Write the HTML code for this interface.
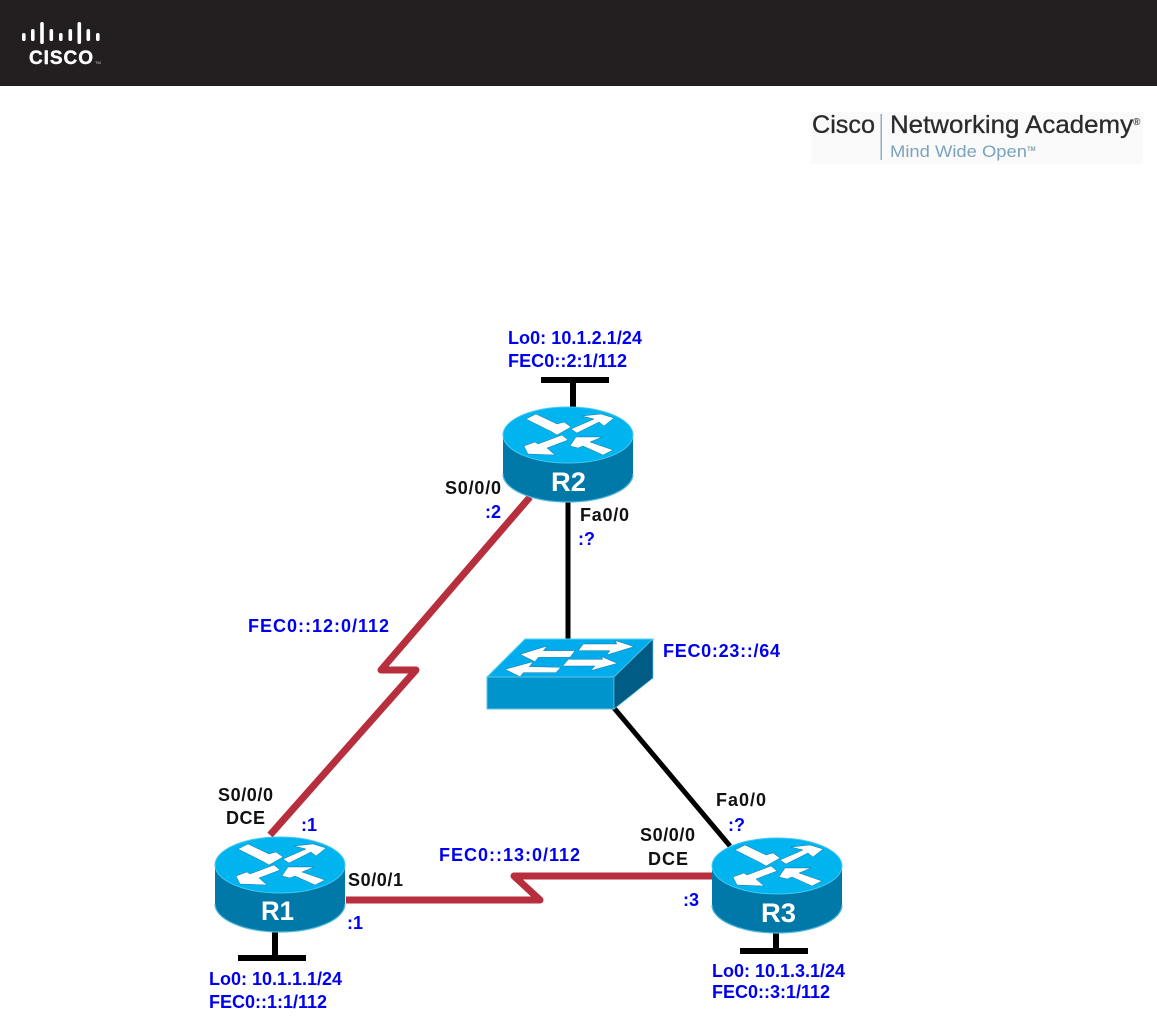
<!DOCTYPE html>
<html lang="en">
<head>
<meta charset="utf-8">
<title>Network topology</title>
<style>
html,body{margin:0;padding:0;background:#fff;}
svg{display:block;}
text{font-family:"Liberation Sans",sans-serif;}
.b{font-weight:bold;font-size:18px;fill:#0000f0;}
.k{font-weight:bold;font-size:18px;fill:#111;}
</style>
</head>
<body>
<svg width="1157" height="1019" viewBox="0 0 1157 1019" xmlns="http://www.w3.org/2000/svg">
<defs>
<g id="router">
  <path d="M-65,0 V39 A65,28 0 0 0 65,39 V0 Z" fill="#0079a8"/>
  <path d="M-65,39 A65,28 0 0 0 65,39" fill="none" stroke="#4fb7dc" stroke-width="1.2"/>
  <ellipse cx="0" cy="0" rx="65" ry="28" fill="#00b4f0" stroke="#45c8f2" stroke-width="1"/>
  <g fill="#fff" stroke="#0a5f88" stroke-width="0.4">
    <polygon points="-42,-16 -32,-21 -11,-11 -4,-13 3,-8 -11,0 -16,-3"/>
    <polygon points="3,-6 26,-16 14,-19 33,-21 46,-17 36,-9 31,-13 9,-2"/>
    <polygon points="-44,11 -40,19 -13,20 -21,13 0,5 -6,0 -30,9 -33,7"/>
    <polygon points="2,11 8,2 34,2 22,7 45,15 35,20 15,11 10,13"/>
  </g>
</g>
</defs>

<rect x="0" y="0" width="1157" height="86" fill="#231f20"/>
<g fill="#fff">
  <rect x="22" y="33" width="3.6" height="8" rx="1.8"/>
  <rect x="31" y="29" width="3.6" height="12" rx="1.8"/>
  <rect x="40.2" y="22" width="3.6" height="22" rx="1.8"/>
  <rect x="49.5" y="29" width="3.6" height="12" rx="1.8"/>
  <rect x="59" y="33" width="3.6" height="8" rx="1.8"/>
  <rect x="68.5" y="29" width="3.6" height="12" rx="1.8"/>
  <rect x="77.5" y="22" width="3.6" height="22" rx="1.8"/>
  <rect x="86.5" y="29" width="3.6" height="12" rx="1.8"/>
  <rect x="96" y="33" width="3.6" height="8" rx="1.8"/>
</g>
<text x="29" y="64" font-size="19" font-weight="bold" fill="#fff" stroke="#fff" stroke-width="0.4" textLength="64">CISCO</text>
<text x="95" y="64" font-size="4" fill="#ccc">TM</text>

<rect x="811" y="112" width="332" height="52" fill="#fafafa"/>
<text x="812" y="133" font-size="25" fill="#2b2b2b" stroke="#2b2b2b" stroke-width="0.3" textLength="63" lengthAdjust="spacingAndGlyphs">Cisco</text>
<rect x="880.5" y="114" width="1.4" height="46" fill="#86a9bf"/>
<text x="890" y="133" font-size="25" fill="#2b2b2b" stroke="#2b2b2b" stroke-width="0.3" textLength="243" lengthAdjust="spacingAndGlyphs">Networking Academy</text>
<text x="1133" y="125" font-size="10" font-weight="bold" fill="#444">®</text>
<text x="890" y="157" font-size="16.5" fill="#7ba3bd" textLength="137" lengthAdjust="spacingAndGlyphs">Mind Wide Open</text>
<text x="1027" y="151" font-size="6" font-weight="bold" fill="#7ba3bd">TM</text>

<g stroke="#b72e3d" stroke-width="7" fill="none" stroke-linejoin="round">
  <polyline points="530,497 381,670 416,670 270,835"/>
  <polyline points="346,900 540,900 514,876 712,876"/>
</g>

<g stroke="#000" fill="none">
  <line x1="541" y1="380" x2="609" y2="380" stroke-width="6"/>
  <line x1="573" y1="380" x2="573" y2="410" stroke-width="6"/>
  <line x1="568" y1="500" x2="568" y2="640" stroke-width="5"/>
  <line x1="614" y1="708" x2="730" y2="846" stroke-width="5"/>
  <line x1="275" y1="930" x2="275" y2="958" stroke-width="6"/>
  <line x1="238" y1="958" x2="306" y2="958" stroke-width="6"/>
  <line x1="776" y1="930" x2="776" y2="951" stroke-width="6"/>
  <line x1="740" y1="951" x2="808" y2="951" stroke-width="6"/>
</g>

<use href="#router" x="568" y="435"/>
<use href="#router" x="280" y="865"/>
<use href="#router" x="777" y="866"/>

<text x="551" y="491" font-size="27" font-weight="bold" fill="#fff" textLength="35" lengthAdjust="spacingAndGlyphs">R2</text>
<text x="261" y="920" font-size="27" font-weight="bold" fill="#fff" textLength="33" lengthAdjust="spacingAndGlyphs">R1</text>
<text x="761" y="922" font-size="27" font-weight="bold" fill="#fff" textLength="35" lengthAdjust="spacingAndGlyphs">R3</text>

<polygon points="487,677 525,639 653,639 614,677" fill="#00acec" stroke="#5fd0f2" stroke-width="1"/>
<polygon points="487,677 614,677 614,709 487,709" fill="#0094cc" stroke="#5fc4e6" stroke-width="1"/>
<polygon points="614,677 653,639 653,678 614,709" fill="#005c84" stroke="#5fc4e6" stroke-width="0.7"/>
<g transform="translate(470,620) scale(0.3333)" fill="#fff" stroke="#0a5f88" stroke-width="1.2">
  <polygon points="150,103 232,78 220,92 315,92 300,112 205,112 195,125"/>
  <polygon points="492,80 437,62 440,72 340,72 325,92 420,92 410,105"/>
  <polygon points="105,148 190,125 178,140 272,142 258,158 160,158 150,170"/>
  <polygon points="442,130 395,110 398,118 295,118 278,138 375,138 362,152"/>
</g>

<text class="b" x="508" y="344" textLength="134">Lo0: 10.1.2.1/24</text>
<text class="b" x="508" y="367" textLength="119">FEC0::2:1/112</text>
<text class="k" x="445" y="494" textLength="56">S0/0/0</text>
<text class="b" x="485" y="518">:2</text>
<text class="k" x="580" y="521" textLength="49">Fa0/0</text>
<text class="b" x="578" y="545">:?</text>
<text class="b" x="248" y="632" textLength="141">FEC0::12:0/112</text>
<text class="b" x="663" y="657" textLength="117">FEC0:23::/64</text>
<text class="k" x="218" y="801" textLength="55">S0/0/0</text>
<text class="k" x="226" y="824" textLength="39">DCE</text>
<text class="b" x="301" y="831">:1</text>
<text class="k" x="348" y="886" textLength="55">S0/0/1</text>
<text class="b" x="347" y="929">:1</text>
<text class="b" x="209" y="985" textLength="133">Lo0: 10.1.1.1/24</text>
<text class="b" x="209" y="1008" textLength="118">FEC0::1:1/112</text>
<text class="b" x="439" y="861" textLength="141">FEC0::13:0/112</text>
<text class="k" x="640" y="841" textLength="55">S0/0/0</text>
<text class="k" x="648" y="865" textLength="40">DCE</text>
<text class="b" x="683" y="906">:3</text>
<text class="k" x="716" y="806" textLength="50">Fa0/0</text>
<text class="b" x="728" y="831">:?</text>
<text class="b" x="712" y="977" textLength="133">Lo0: 10.1.3.1/24</text>
<text class="b" x="712" y="998" textLength="118">FEC0::3:1/112</text>
</svg>
</body>
</html>
